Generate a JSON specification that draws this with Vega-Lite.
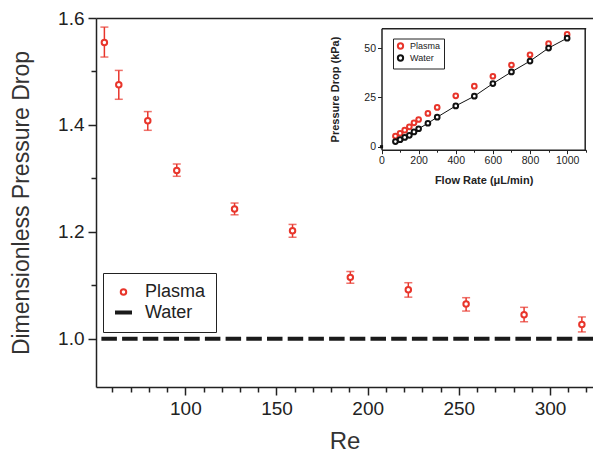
{
  "$schema": "https://vega.github.io/schema/vega-lite/v6.json",
  "width": 497,
  "height": 369,
  "autosize": {"type": "none"},
  "padding": {"left": 96, "top": 18, "right": 0, "bottom": 65},
  "background": "white",
  "config": {
    "view": {"stroke": null},
    "font": "Liberation Sans",
    "axis": {
      "labelFont": "Liberation Sans",
      "titleFont": "Liberation Sans",
      "labelColor": "#222",
      "titleColor": "#333",
      "domainColor": "#222",
      "tickColor": "#222",
      "grid": false,
      "labelFlush": false,
      "labelOverlap": false
    },
    "legend": {"labelFont": "Liberation Sans"}
  },
  "datasets": {
    "main": [
      {"series": "Plasma", "Re": 55.6, "ratio": 1.554, "lo": 1.527, "hi": 1.583},
      {"series": "Plasma", "Re": 63.5, "ratio": 1.475, "lo": 1.448, "hi": 1.502},
      {"series": "Plasma", "Re": 79.4, "ratio": 1.408, "lo": 1.390, "hi": 1.425},
      {"series": "Plasma", "Re": 95.3, "ratio": 1.315, "lo": 1.304, "hi": 1.327},
      {"series": "Plasma", "Re": 127.0, "ratio": 1.243, "lo": 1.232, "hi": 1.254},
      {"series": "Plasma", "Re": 158.8, "ratio": 1.202, "lo": 1.190, "hi": 1.214},
      {"series": "Plasma", "Re": 190.5, "ratio": 1.115, "lo": 1.104, "hi": 1.126},
      {"series": "Plasma", "Re": 222.3, "ratio": 1.092, "lo": 1.078, "hi": 1.105},
      {"series": "Plasma", "Re": 254.0, "ratio": 1.065, "lo": 1.052, "hi": 1.077},
      {"series": "Plasma", "Re": 285.8, "ratio": 1.045, "lo": 1.032, "hi": 1.059},
      {"series": "Plasma", "Re": 317.5, "ratio": 1.027, "lo": 1.013, "hi": 1.041}
    ],
    "water": [
      {"series": "Water", "ratio": 1.0}
    ],
    "inset": [
      {"series": "Plasma", "flow": 75, "dp": 5.4},
      {"series": "Plasma", "flow": 100, "dp": 6.8},
      {"series": "Plasma", "flow": 125, "dp": 8.4},
      {"series": "Plasma", "flow": 150, "dp": 10.1},
      {"series": "Plasma", "flow": 175, "dp": 12.1},
      {"series": "Plasma", "flow": 200, "dp": 13.8},
      {"series": "Plasma", "flow": 250, "dp": 16.9},
      {"series": "Plasma", "flow": 300, "dp": 19.9},
      {"series": "Plasma", "flow": 400, "dp": 25.8},
      {"series": "Plasma", "flow": 500, "dp": 30.7},
      {"series": "Plasma", "flow": 600, "dp": 35.7},
      {"series": "Plasma", "flow": 700, "dp": 41.4},
      {"series": "Plasma", "flow": 800, "dp": 46.6},
      {"series": "Plasma", "flow": 900, "dp": 52.2},
      {"series": "Plasma", "flow": 1000, "dp": 56.9},
      {"series": "Water", "flow": 75, "dp": 2.6},
      {"series": "Water", "flow": 100, "dp": 3.6},
      {"series": "Water", "flow": 125, "dp": 4.7},
      {"series": "Water", "flow": 150, "dp": 5.8},
      {"series": "Water", "flow": 175, "dp": 7.5},
      {"series": "Water", "flow": 200, "dp": 9.1},
      {"series": "Water", "flow": 250, "dp": 11.9},
      {"series": "Water", "flow": 300, "dp": 15.0},
      {"series": "Water", "flow": 400, "dp": 20.7},
      {"series": "Water", "flow": 500, "dp": 25.6},
      {"series": "Water", "flow": 600, "dp": 32.0},
      {"series": "Water", "flow": 700, "dp": 37.9},
      {"series": "Water", "flow": 800, "dp": 43.4},
      {"series": "Water", "flow": 900, "dp": 50.0},
      {"series": "Water", "flow": 1000, "dp": 55.0}
    ],
    "origin": [
      {"flow": 0, "dp": 0}
    ]
  },
  "resolve": {
    "scale": {"x": "independent", "y": "independent", "color": "independent", "shape": "independent", "size": "independent", "strokeWidth": "independent"},
    "axis": {"x": "independent", "y": "independent"},
    "legend": {"color": "independent", "shape": "independent", "size": "independent", "strokeWidth": "independent"}
  },
  "layer": [
    {
      "resolve": {"axis": {"x": "independent"}},
      "layer": [
        {
          "data": {"name": "main"},
          "mark": {"type": "errorbar", "color": "#e8352b", "thickness": 1.5, "ticks": {"size": 8, "strokeWidth": 1.5, "color": "#e8352b"}},
          "encoding": {
            "x": {
              "field": "Re", "type": "quantitative",
              "scale": {"domain": [51, 323.6], "nice": false, "zero": false},
              "axis": {
                "orient": "bottom",
                "title": "Re",
                "titleFontSize": 24,
                "titleFontWeight": "normal",
                "titlePadding": 11,
                "values": [60, 70, 80, 90, 100, 110, 120, 130, 140, 150, 160, 170, 180, 190, 200, 210, 220, 230, 240, 250, 260, 270, 280, 290, 300, 310, 320],
                "labelExpr": "datum.value % 50 === 0 ? datum.label : ''",
                "labelFontSize": 19,
                "labelPadding": 4,
                "tickSize": {"condition": {"test": "datum.value % 50 === 0", "value": 8}, "value": 5},
                "tickWidth": 1.5,
                "domainWidth": 1.5
              }
            },
            "y": {
              "field": "lo", "type": "quantitative",
              "scale": {"domain": [0.91, 1.6], "nice": false, "zero": false},
              "axis": {
                "title": "Dimensionless Pressure Drop",
                "titleFontSize": 23,
                "titleFontWeight": "normal",
                "titlePadding": 24,
                "values": [1.0, 1.1, 1.2, 1.3, 1.4, 1.5, 1.6],
                "labelExpr": "round(datum.value * 10) % 2 === 0 ? format(datum.value, '.1f') : ''",
                "labelFontSize": 19,
                "labelPadding": 4,
                "tickSize": {"condition": {"test": "round(datum.value * 10) % 2 === 0", "value": 8}, "value": 5},
                "tickWidth": 1.5,
                "domainWidth": 1.5
              }
            },
            "y2": {"field": "hi"}
          }
        },
        {
          "data": {"name": "water"},
          "mark": {"type": "rule", "color": "#1a1a1a", "strokeWidth": 4, "strokeDash": [15.5, 5.2]},
          "encoding": {
            "y": {"field": "ratio", "type": "quantitative"}
          }
        },
        {
          "data": {"name": "main"},
          "mark": {"type": "point", "filled": false, "fill": "white", "opacity": 1},
          "encoding": {
            "x": {
              "field": "Re", "type": "quantitative",
              "axis": {"orient": "top", "title": null, "labels": false, "ticks": false, "domainWidth": 1.5}
            },
            "y": {
              "field": "ratio", "type": "quantitative",
              "axis": {
                "title": "Dimensionless Pressure Drop",
                "titleFontSize": 23,
                "titleFontWeight": "normal",
                "titlePadding": 24,
                "values": [1.0, 1.1, 1.2, 1.3, 1.4, 1.5, 1.6],
                "labelExpr": "round(datum.value * 10) % 2 === 0 ? format(datum.value, '.1f') : ''",
                "labelFontSize": 19,
                "labelPadding": 4,
                "tickSize": {"condition": {"test": "round(datum.value * 10) % 2 === 0", "value": 8}, "value": 5},
                "tickWidth": 1.5,
                "domainWidth": 1.5
              }
            },
            "color": {
              "field": "series", "type": "nominal",
              "scale": {"domain": ["Plasma", "Water"], "range": ["#e8352b", "#1a1a1a"]},
              "legend": {"title": null, "orient": "none", "legendX": 7, "legendY": 255, "padding": 10, "strokeColor": "#222", "fillColor": "white", "labelFontSize": 18, "labelColor": "#222", "labelOffset": 11, "rowPadding": 1}
            },
            "shape": {
              "field": "series", "type": "nominal",
              "scale": {"domain": ["Plasma", "Water"], "range": ["circle", "stroke"]},
              "legend": {"title": null, "orient": "none", "legendX": 7, "legendY": 255, "padding": 10, "strokeColor": "#222", "fillColor": "white", "labelFontSize": 18, "labelColor": "#222", "labelOffset": 11, "rowPadding": 1}
            },
            "size": {
              "field": "series", "type": "nominal",
              "scale": {"type": "ordinal", "domain": ["Plasma", "Water"], "range": [30, 289]},
              "legend": {"title": null, "orient": "none", "legendX": 7, "legendY": 255, "padding": 10, "strokeColor": "#222", "fillColor": "white", "labelFontSize": 18, "labelColor": "#222", "labelOffset": 11, "rowPadding": 1}
            },
            "strokeWidth": {
              "field": "series", "type": "nominal",
              "scale": {"type": "ordinal", "domain": ["Plasma", "Water"], "range": [2, 4]},
              "legend": {"title": null, "orient": "none", "legendX": 7, "legendY": 255, "padding": 10, "strokeColor": "#222", "fillColor": "white", "labelFontSize": 18, "labelColor": "#222", "labelOffset": 11, "rowPadding": 1}
            }
          }
        }
      ]
    },
    {
      "resolve": {"axis": {"x": "independent", "y": "independent"}},
      "layer": [
        {
          "data": {"name": "inset"},
          "transform": [{"filter": "datum.series === 'Plasma'"}],
          "mark": {"type": "point", "filled": false, "fill": "white", "size": 22, "strokeWidth": 2, "opacity": 1},
          "encoding": {
            "x": {
              "field": "flow", "type": "quantitative",
              "scale": {"domain": [0, 1100], "range": [285.5, 489.7], "nice": false, "zero": false},
              "axis": {
                "orient": "bottom",
                "offset": -237.3,
                "format": "d",
                "title": "Flow Rate (μL/min)",
                "titleFontSize": 11,
                "titleFontWeight": "bold",
                "titleColor": "#222",
                "titlePadding": 8,
                "values": [0, 100, 200, 300, 400, 500, 600, 700, 800, 900, 1000, 1100],
                "labelExpr": "datum.value % 200 === 0 && datum.value <= 1000 ? datum.label : ''",
                "labelFontSize": 10.5,
                "labelPadding": 2,
                "tickSize": {"condition": {"test": "datum.value % 200 === 0", "value": 4}, "value": 2.5},
                "tickWidth": 1,
                "domainWidth": 1.5
              }
            },
            "y": {
              "field": "dp", "type": "quantitative",
              "scale": {"domain": [-1.5, 60], "range": [131.7, 10.3], "nice": false, "zero": false},
              "axis": {
                "orient": "left",
                "offset": -285.5,
                "title": "Pressure Drop (kPa)",
                "titleFontSize": 11,
                "titleFontWeight": "bold",
                "titleColor": "#222",
                "titlePadding": 23,
                "values": [0, 25, 50],
                "labelFontSize": 10.5,
                "labelPadding": 2,
                "tickSize": 4,
                "tickWidth": 1,
                "domainWidth": 1.5
              }
            },
            "color": {
              "field": "series", "type": "nominal",
              "scale": {"domain": ["Plasma", "Water"], "range": ["#e8352b", "#111111"]},
              "legend": {
                "title": null,
                "orient": "none",
                "legendX": 297,
                "legendY": 20.5,
                "padding": 3,
                "strokeColor": "#222",
                "fillColor": "white",
                "labelFontSize": 9,
                "labelColor": "#222",
                "labelOffset": 5,
                "rowPadding": -3,
                "symbolType": "circle",
                "symbolSize": 28,
                "symbolStrokeWidth": 2
              }
            }
          }
        },
        {
          "data": {"name": "inset"},
          "transform": [{"filter": "datum.series === 'Water'"}],
          "mark": {"type": "line", "color": "#111111", "strokeWidth": 1},
          "encoding": {
            "x": {
              "field": "flow", "type": "quantitative",
              "axis": {"orient": "top", "offset": -10.3, "title": null, "labels": false, "ticks": false, "domainWidth": 1.5}
            },
            "y": {
              "field": "dp", "type": "quantitative",
              "axis": {"orient": "right", "offset": -8.3, "title": null, "labels": false, "ticks": false, "domainWidth": 1.5}
            }
          }
        },
        {
          "data": {"name": "inset"},
          "transform": [{"filter": "datum.series === 'Water'"}],
          "mark": {"type": "point", "filled": false, "fill": "white", "size": 22, "strokeWidth": 2, "opacity": 1},
          "encoding": {
            "x": {"field": "flow", "type": "quantitative", "axis": null},
            "y": {"field": "dp", "type": "quantitative", "axis": null},
            "color": {"field": "series", "type": "nominal"}
          }
        },
        {
          "data": {"name": "origin"},
          "mark": {"type": "square", "filled": true, "color": "#111111", "size": 10, "opacity": 1},
          "encoding": {
            "x": {"field": "flow", "type": "quantitative", "axis": null},
            "y": {"field": "dp", "type": "quantitative", "axis": null}
          }
        }
      ]
    }
  ]
}
